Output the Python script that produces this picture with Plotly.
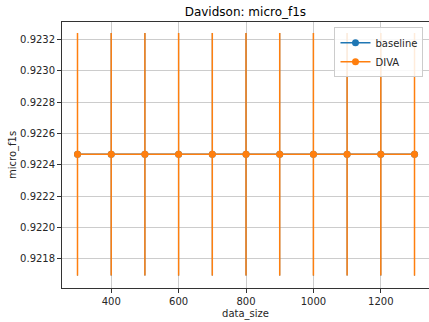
import plotly.graph_objects as go

data_size = [300, 400, 500, 600, 700, 800, 900, 1000, 1100, 1200, 1300]
baseline_mean = [0.922467] * 11
baseline_err = [0.000773] * 11
diva_mean = [0.922467] * 11
diva_err = [0.000773] * 11
y_ticks = [0.9218, 0.9220, 0.9222, 0.9224, 0.9226, 0.9228, 0.9230, 0.9232]
x_ticks = [400, 600, 800, 1000, 1200]

FONT = "DejaVu Sans"
fig = go.Figure()
for name, m, e, c, et in [("baseline", baseline_mean, baseline_err, "#1f77b4", 1.0),
                          ("DIVA", diva_mean, diva_err, "#ff7f0e", 1.5)]:
    fig.add_trace(go.Scatter(
        x=data_size, y=m, name=name, mode="lines+markers",
        line=dict(color=c, width=1.5),
        marker=dict(color=c, size=7, symbol="circle"),
        error_y=dict(type="data", array=e, visible=True, color=c, thickness=et, width=0),
    ))

fig.update_layout(
    width=429, height=322,
    margin=dict(l=62, r=0, t=22, b=34),
    paper_bgcolor="white", plot_bgcolor="white",
    font=dict(family=FONT, size=10, color="#262626"),
    title=dict(text="Davidson: micro_f1s", x=0.572, xanchor="center", y=0.963, yanchor="middle",
               font=dict(size=12, color="black")),
    legend=dict(x=0.985, y=0.98, xanchor="right", yanchor="top",
                bgcolor="rgba(255,255,255,0.85)", bordercolor="#cccccc", borderwidth=1,
                font=dict(size=10, color="#262626"), tracegroupgap=0,
                itemwidth=30),
    showlegend=True,
    annotations=[dict(text="micro_f1s", xref="paper", yref="paper",
                      x=(13 - 62) / 367, y=0.5, xanchor="center", yanchor="middle",
                      textangle=-90, showarrow=False, font=dict(size=10, color="#262626"))],
)
fig.update_xaxes(
    range=[254, 1343], tickvals=x_ticks, ticks="outside", ticklen=4, tickcolor="#333",
    showgrid=True, gridcolor="#cccccc", gridwidth=0.8,
    showline=True, linecolor="#333", linewidth=0.8, mirror=True, zeroline=False,
    title=dict(text="data_size", standoff=4, font=dict(size=10)),
    automargin=False,
)
fig.update_yaxes(
    range=[0.921615, 0.92331], tickvals=y_ticks, tickformat=".4f", ticks="outside", ticklen=4,
    tickcolor="#333",
    showgrid=True, gridcolor="#cccccc", gridwidth=0.8,
    showline=True, linecolor="#333", linewidth=0.8, mirror=True, zeroline=False,
    automargin=False,
)
fig.write_html("out.html", config={"displayModeBar": False},
               post_script="document.body.style.margin='0';document.body.style.overflow='hidden';")
